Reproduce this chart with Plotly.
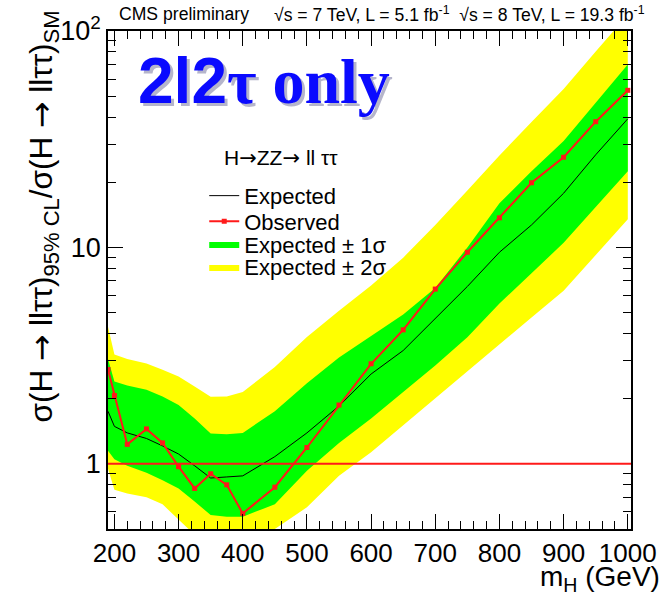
import math
import plotly.graph_objects as go

# ---------------- data ----------------
mass = [190, 200, 220, 250, 275, 300, 325, 350, 375, 400, 450, 500, 550,
        600, 650, 700, 750, 800, 850, 900, 950, 1000]
observed = [2.73, 2.07, 1.23, 1.45, 1.25, 0.97, 0.77, 0.90, 0.80, 0.59, 0.78, 1.19, 1.87,
            2.90, 4.16, 6.42, 9.5, 13.7, 19.9, 26.1, 38.1, 53.2]
expected = [1.75, 1.49, 1.39, 1.31, 1.21, 1.11, 0.98, 0.86, 0.87, 0.88, 1.08, 1.39, 1.85,
            2.60, 3.34, 4.70, 6.6, 9.5, 12.7, 17.8, 26.8, 39.3]
exp_p1 = [3.05, 2.40, 2.30, 2.20, 2.05, 1.87, 1.62, 1.38, 1.37, 1.39, 1.75, 2.36, 3.10,
          3.90, 4.90, 6.50, 10.0, 16.0, 22.5, 31.0, 46.4, 70.0]
exp_m1 = [1.15, 1.05, 0.98, 0.91, 0.84, 0.77, 0.67, 0.58, 0.57, 0.57, 0.65, 0.93, 1.25,
          1.62, 2.15, 2.85, 3.85, 5.5, 7.6, 10.5, 15.3, 22.5]
exp_p2 = [4.30, 3.20, 3.05, 2.91, 2.72, 2.53, 2.28, 2.04, 2.05, 2.15, 2.80, 3.86, 5.10,
          6.67, 8.97, 12.7, 18.3, 26.6, 38.0, 54.0, 80.4, 119.0]
exp_m2 = [0.95, 0.76, 0.73, 0.70, 0.65, 0.55, 0.47, 0.42, 0.41, 0.41, 0.50, 0.63, 0.88,
          1.13, 1.50, 2.00, 2.67, 3.57, 4.75, 6.30, 9.2, 13.5]

x_ticks = [200, 300, 400, 500, 600, 700, 800, 900, 1000]
x_minor = list(range(200, 1001, 20))
y_ticks = [1, 10, 100]
y_ticktext = ["1", "10", "10<sup>2</sup>"]
y_minor = [0.5, 0.6, 0.7, 0.8, 0.9, 2, 3, 4, 5, 6, 7, 8, 9, 20, 30, 40, 50, 60, 70, 80, 90]
x_range = [190, 1005]
y_range = [0.5, 100]
sm_level = 1

FONT = "Liberation Sans, Arial, sans-serif"
ARROW = '<span style="font-family:DejaVu Sans">\u2192</span>'

fig = go.Figure()

fig.add_trace(go.Scatter(
    x=mass + mass[::-1], y=exp_p2 + exp_m2[::-1], fill="toself",
    fillcolor="#ffff00", line=dict(width=0, color="#ffff00"), mode="lines",
    name="Expected \u00b1 2\u03c3", legend="legend4", hoverinfo="skip"))
fig.add_trace(go.Scatter(
    x=mass + mass[::-1], y=exp_p1 + exp_m1[::-1], fill="toself",
    fillcolor="#00ff00", line=dict(width=0, color="#00ff00"), mode="lines",
    name="Expected \u00b1 1\u03c3", legend="legend3", hoverinfo="skip"))
fig.add_trace(go.Scatter(
    x=mass, y=expected, mode="lines", line=dict(color="black", width=1),
    name="Expected", legend="legend"))
fig.add_trace(go.Scatter(
    x=mass, y=observed, mode="lines+markers", line=dict(color="#ff1a1a", width=2),
    marker=dict(symbol="square", size=5, color="#ff1a1a"),
    name="Observed", legend="legend2"))

fig.add_hline(y=sm_level, line=dict(color="#ff1a1a", width=2), layer="above")

fig.update_xaxes(
    range=x_range, tickmode="array", tickvals=x_ticks,
    ticks="inside", ticklen=15, tickwidth=1, tickcolor="black",
    minor=dict(tickmode="array", tickvals=x_minor, ticks="inside", ticklen=8,
               tickwidth=1, tickcolor="black", showgrid=False),
    showline=True, linecolor="black", linewidth=1.5, mirror="allticks",
    showgrid=False, zeroline=False,
    tickfont=dict(family=FONT, size=26, color="black"))
fig.update_yaxes(
    type="log", range=[math.log10(y_range[0]), math.log10(y_range[1])],
    tickmode="array", tickvals=y_ticks, ticktext=y_ticktext,
    ticks="inside", ticklen=15, tickwidth=1, tickcolor="black",
    minor=dict(tickmode="array", tickvals=y_minor, ticks="inside", ticklen=8,
               tickwidth=1, tickcolor="black", showgrid=False),
    showline=True, linecolor="black", linewidth=1.5, mirror="allticks",
    showgrid=False, zeroline=False,
    tickfont=dict(family=FONT, size=27, color="black"))

title_text = '<span style="font-family:Liberation Sans, Arial">2l2</span>\u03c4 only'
annotations = [
    dict(text="CMS preliminary", x=0.018, y=1.034, xanchor="left", yanchor="middle",
         font=dict(family=FONT, size=17.6, color="black")),
    dict(text="\u221as = 7 TeV, L = 5.1 fb<sup>-1</sup>  \u221as = 8 TeV, L = 19.3 fb<sup>-1</sup>",
         x=0.314, y=1.034, xanchor="left", yanchor="middle",
         font=dict(family=FONT, size=17.6, color="black")),
    dict(text=title_text,
         x=0.2985 + 0.006, y=0.9004 - 0.006, xanchor="center", yanchor="middle",
         font=dict(family="Liberation Serif, Times New Roman, serif", size=64,
                   color="rgba(90,90,140,0.45)", weight="bold")),
    dict(text=title_text,
         x=0.2985, y=0.9004, xanchor="center", yanchor="middle",
         font=dict(family="Liberation Serif, Times New Roman, serif", size=64,
                   color="#0a0aff", weight="bold")),
    dict(text="H" + ARROW + "ZZ" + ARROW + " ll \u03c4\u03c4", x=0.331, y=0.745,
         xanchor="center", yanchor="middle", font=dict(family=FONT, size=21, color="black")),
    dict(text="\u03c3(H " + ARROW + " ll\u03c4\u03c4)<sub>95% CL</sub>/\u03c3(H " + ARROW
         + " ll\u03c4\u03c4)<sub>SM</sub>",
         x=-0.1236, y=1.0458, xanchor="center", yanchor="top", textangle=-90,
         font=dict(family=FONT, size=31.5, color="black")),
    dict(text="m<sub>H</sub> (GeV)", x=1.059, y=-0.1, xanchor="right",
         yanchor="middle", font=dict(family=FONT, size=28, color="black")),
]
for a in annotations:
    a.update(xref="paper", yref="paper", showarrow=False)

legend_font = dict(family=FONT, size=22, color="black")
def leg(yc):
    return dict(x=0.184, y=yc, xanchor="left", yanchor="middle",
                bgcolor="rgba(0,0,0,0)", borderwidth=0, font=legend_font,
                itemwidth=30, tracegroupgap=0)

fig.update_layout(
    width=669, height=604,
    margin=dict(l=108, r=35, t=27, b=75),
    paper_bgcolor="white", plot_bgcolor="white",
    annotations=annotations,
    showlegend=True,
    legend=leg(0.669),
    legend2=leg(0.6175),
    legend3=leg(0.5717),
    legend4=leg(0.5259),
)

fig.write_html("out.html")
